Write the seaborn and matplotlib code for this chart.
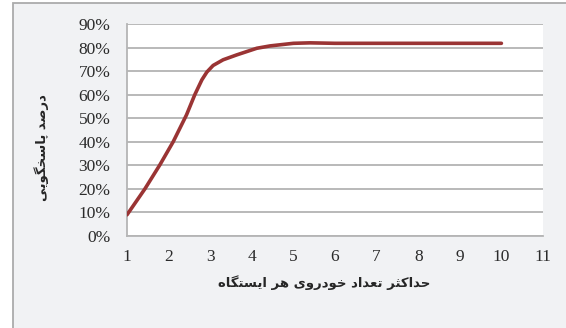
import matplotlib
matplotlib.use("Agg")
import matplotlib.pyplot as plt
from matplotlib.patches import Rectangle
import numpy as np
import pandas as pd
import seaborn as sns

# ---- data ----
stations = [1.0, 1.43, 1.79, 2.11, 2.43, 2.63, 2.80, 2.92, 3.07, 3.31, 3.64, 4.12, 4.44, 5.0, 5.4, 6, 7, 8, 9, 10]
response = [9.0, 20.0, 30.2, 40.0, 51.4, 60.0, 66.3, 69.6, 72.4, 74.8, 76.9, 79.7, 80.7, 81.8, 82.0, 81.8, 81.8, 81.8, 81.8, 81.8]
x_ticks = list(range(1, 12))
y_ticks = list(range(0, 100, 10))
y_tick_labels = [f"{v}%" for v in y_ticks]
x_label = "حداکثر تعداد خودروی هر ایستگاه"
y_label = "درصد پاسخگویی"

# ---- minimal Arabic/Persian shaping (presentation forms + RTL order) ----
FORMS = {
    '\u0627': ('\uFE8D', '\uFE8E', None, None),      # alef
    '\u062A': ('\uFE95', '\uFE96', '\uFE97', '\uFE98'),  # teh
    '\u062B': ('\uFE99', '\uFE9A', '\uFE9B', '\uFE9C'),  # theh
    '\u062D': ('\uFEA1', '\uFEA2', '\uFEA3', '\uFEA4'),  # hah
    '\u062E': ('\uFEA5', '\uFEA6', '\uFEA7', '\uFEA8'),  # khah
    '\u062F': ('\uFEA9', '\uFEAA', None, None),      # dal
    '\u0631': ('\uFEAD', '\uFEAE', None, None),      # reh
    '\u0633': ('\uFEB1', '\uFEB2', '\uFEB3', '\uFEB4'),  # seen
    '\u0635': ('\uFEB9', '\uFEBA', '\uFEBB', '\uFEBC'),  # sad
    '\u0639': ('\uFEC9', '\uFECA', '\uFECB', '\uFECC'),  # ain
    '\u0647': ('\uFEE9', '\uFEEA', '\uFEEB', '\uFEEC'),  # heh
    '\u0648': ('\uFEED', '\uFEEE', None, None),      # waw
    '\u067E': ('\uFB56', '\uFB57', '\uFB58', '\uFB59'),  # peh
    '\u06A9': ('\uFB8E', '\uFB8F', '\uFB90', '\uFB91'),  # keheh
    '\u06AF': ('\uFB92', '\uFB93', '\uFB94', '\uFB95'),  # gaf
    '\u06CC': ('\uFBFC', '\uFBFD', '\uFBFE', '\uFBFF'),  # farsi yeh
}


def shape(text):
    chars = list(text)
    out = []
    for i, c in enumerate(chars):
        if c not in FORMS:
            out.append(c)
            continue
        prev = chars[i - 1] if i > 0 else None
        nxt = chars[i + 1] if i + 1 < len(chars) else None
        join_prev = prev in FORMS and FORMS[prev][2] is not None
        join_next = nxt in FORMS and FORMS[c][2] is not None
        iso, fin, ini, med = FORMS[c]
        if join_prev and join_next:
            f = med
        elif join_prev:
            f = fin
        elif join_next:
            f = ini
        else:
            f = iso
        out.append(f)
    return ''.join(reversed(out))


sns.set_style("white")
plt.rcParams['font.family'] = ['Liberation Serif', 'DejaVu Sans']

W, H = 566, 328
fig = plt.figure(figsize=(W / 100, H / 100), dpi=100, facecolor='white')

# outer framed panel
panel = Rectangle((13 / W, -0.1), 1.2, 1 - 3 / H + 0.1, transform=fig.transFigure,
                  facecolor='#F1F2F4', edgecolor='#ABABAB', linewidth=1.3, zorder=-5)
fig.patches.append(panel)

ax = fig.add_axes([127 / W, 1 - 236 / H, 416 / W, 212 / H])
ax.set_zorder(2)
ax.set_facecolor('white')

df = pd.DataFrame({'stations': stations, 'response': response})
sns.lineplot(data=df, x='stations', y='response', ax=ax, color='#9A3434', linewidth=2.6, zorder=3)
for ln in ax.get_lines():
    ln.set_solid_joinstyle('round')
    ln.set_solid_capstyle('round')

ax.set_xlim(1, 11)
ax.set_ylim(0, 90)
ax.set_xticks(x_ticks)
ax.set_xticklabels([str(t) for t in x_ticks])
ax.set_yticks(y_ticks)
ax.set_yticklabels(y_tick_labels)

ax.grid(axis='y', color='#A6A6A6', linewidth=1.1)
ax.grid(axis='x', visible=False)
ax.set_axisbelow(True)
for s in ['top', 'right']:
    ax.spines[s].set_visible(False)
for s in ['left', 'bottom']:
    ax.spines[s].set_color('#B5B5B5')
    ax.spines[s].set_linewidth(1.3)

ax.tick_params(axis='both', which='major', direction='out', length=4, width=1.1, color='#B5B5B5',
               labelsize=12.5, labelcolor='#2B2B2B')
ax.tick_params(axis='y', pad=8)
ax.tick_params(axis='x', pad=5.5)

ax.set_xlabel('')
ax.set_ylabel('')

fig.text(324 / W, 1 - 283 / H, shape(x_label), ha='center', va='center', fontsize=9.5,
         fontweight='bold', family=['DejaVu Sans'], color='#262626', zorder=3)
fig.text(42 / W, 1 - 148 / H, shape(y_label), ha='center', va='center', rotation=90, fontsize=9.5,
         fontweight='bold', family=['DejaVu Sans'], color='#262626', zorder=3)

fig.savefig('out.png', dpi=100, facecolor=fig.get_facecolor())
